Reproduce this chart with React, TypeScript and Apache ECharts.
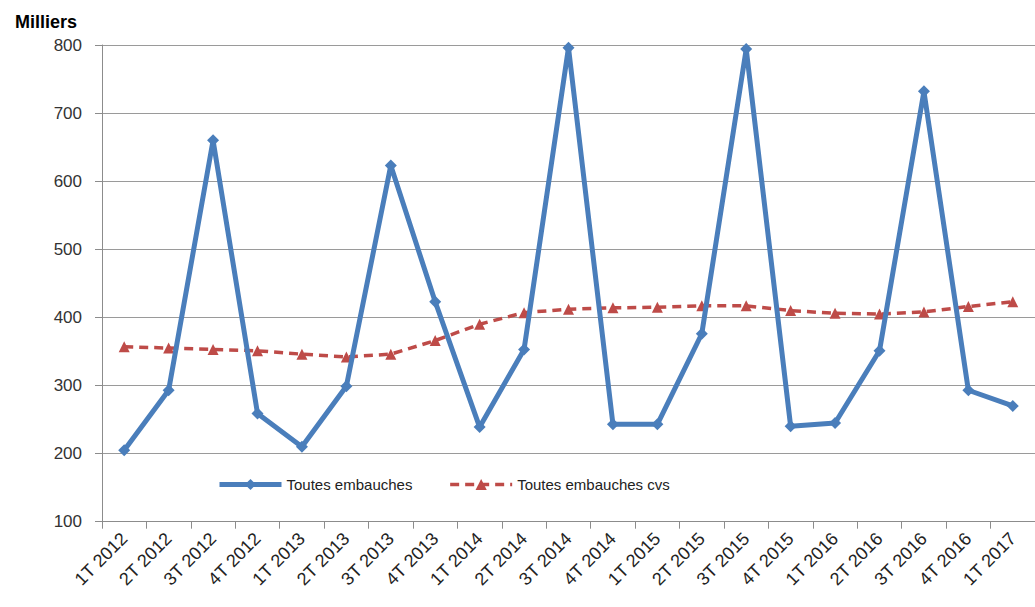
import React, { useEffect, useRef } from "react";
import * as echarts from "echarts";

const categories = [
  "1T 2012", "2T 2012", "3T 2012", "4T 2012",
  "1T 2013", "2T 2013", "3T 2013", "4T 2013",
  "1T 2014", "2T 2014", "3T 2014", "4T 2014",
  "1T 2015", "2T 2015", "3T 2015", "4T 2015",
  "1T 2016", "2T 2016", "3T 2016", "4T 2016",
  "1T 2017",
];

const toutesEmbauches = [
  205, 293, 660, 259, 210, 299, 623, 423, 239, 353, 796, 243,
  243, 376, 794, 240, 245, 351, 732, 293, 270,
];

const toutesEmbauchesCvs = [
  357, 355, 353, 351, 346, 342, 346, 366, 390, 407, 412, 414,
  415, 417, 417, 410, 406, 405, 408, 416, 423,
];

const yTicks = { min: 100, max: 800, interval: 100 };

export default function App() {
  const ref = useRef<HTMLDivElement>(null);

  useEffect(() => {
    if (!ref.current) return;
    const chart = echarts.init(ref.current, undefined, { renderer: "svg" });
    const font = "'Liberation Sans', Arial, sans-serif";
    chart.setOption({
      animation: false,
      backgroundColor: "#ffffff",
      title: {
        text: "Milliers",
        left: 10,
        top: 8,
        textStyle: { fontFamily: font, fontWeight: "bold", fontSize: 18, color: "#000" },
      },
      legend: {
        left: 217,
        top: 477,
        padding: 0,
        itemWidth: 62,
        itemHeight: 14,
        itemGap: 36,
        lineStyle: { width: "inherit" },
        textStyle: { fontFamily: font, fontSize: 15, color: "#222" },
        data: ["Toutes embauches", "Toutes embauches cvs"],
      },
      grid: { left: 102, top: 45, width: 943, height: 476.7 },
      xAxis: {
        type: "category",
        data: categories,
        boundaryGap: true,
        axisLine: { lineStyle: { color: "#8c8c8c", width: 1 } },
        axisTick: { show: true, length: 7, lineStyle: { color: "#8c8c8c" } },
        axisLabel: {
          rotate: 45,
          interval: 0,
          margin: 14,
          fontFamily: font,
          fontSize: 18,
          color: "#222",
        },
      },
      yAxis: {
        type: "value",
        min: yTicks.min,
        max: yTicks.max,
        interval: yTicks.interval,
        axisLine: { show: true, lineStyle: { color: "#8c8c8c", width: 1 } },
        axisTick: { show: true, length: 7, lineStyle: { color: "#8c8c8c" } },
        axisLabel: { margin: 20, fontFamily: font, fontSize: 17, color: "#333" },
        splitLine: { lineStyle: { color: "#9a9a9a", width: 1 } },
      },
      series: [
        {
          name: "Toutes embauches",
          type: "line",
          data: toutesEmbauches,
          symbol: "diamond",
          symbolSize: 12,
          lineStyle: { color: "#4A7EBB", width: 5 },
          itemStyle: { color: "#4A7EBB" },
          z: 3,
        },
        {
          name: "Toutes embauches cvs",
          type: "line",
          data: toutesEmbauchesCvs,
          symbol: "triangle",
          symbolSize: 11,
          lineStyle: { color: "#BE4B48", width: 3.5, type: [9, 6] },
          itemStyle: { color: "#BE4B48" },
          z: 2,
        },
      ],
    });
    return () => chart.dispose();
  }, []);

  return (
    <div
      ref={ref}
      style={{ position: "absolute", left: 0, top: 0, width: 1035, height: 607 }}
    />
  );
}
